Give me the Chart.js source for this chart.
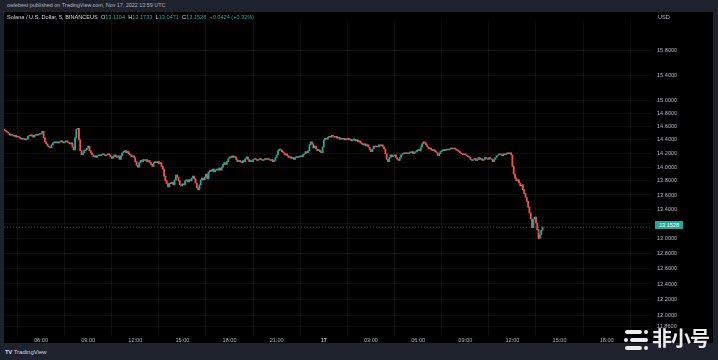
<!DOCTYPE html>
<html><head><meta charset="utf-8">
<script src="https://cdn.jsdelivr.net/npm/chart.js@4/dist/chart.umd.min.js"></script>
<style>
html,body{margin:0;padding:0;background:#1e222d;width:718px;height:360px;overflow:hidden;font-family:"Liberation Sans",Arial,sans-serif}
#panel{position:absolute;left:4px;top:12px;width:709px;height:331px;background:#000}
#c{position:absolute;left:4px;top:12px}
.t{position:absolute;white-space:nowrap;line-height:1}
#pub{left:7px;top:3px;font-size:5.4px;color:#b2b5be}
#leg{left:7px;top:15px;font-size:5.6px;color:#d1d4dc}
#leg b{font-weight:normal;color:#26a69a}
#usd{left:658px;top:15px;font-size:5.6px;color:#b2b5be}
#badge{left:655px;top:221px;width:28px;height:8px;background:#26a69a;color:#fff;font-size:5.6px;line-height:8px;text-align:center}
#tv{left:5px;top:349px;font-size:6px;color:#d1d4dc}
#tv span{font-weight:bold;letter-spacing:-0.5px;margin-right:2px}
#wm{left:652px;top:328px;font-size:20px;font-weight:bold;color:#ececec;font-family:"Noto Sans CJK SC",sans-serif;letter-spacing:-1px}
.ic{position:absolute;background:#ececec;border-radius:2px;height:4px}
</style></head>
<body>
<div id="panel"></div>
<canvas id="c" width="709" height="331"></canvas>
<div class="t" id="pub">owlebest published on TradingView.com, Nov 17, 2022 13:59 UTC</div>
<div class="t" id="leg">Solana / U.S. Dollar, 5, BINANCEUS&nbsp;&nbsp;O<b>13.1104</b>&nbsp;&nbsp;H<b>13.1733</b>&nbsp;&nbsp;L<b>13.0471</b>&nbsp;&nbsp;C<b>13.1528</b>&nbsp;&nbsp;<b>+0.0424 (+0.32%)</b></div>
<div class="t" id="usd">USD</div>
<div class="t" id="badge">13.1528</div>
<div class="t" id="tv"><span>TV</span>TradingView</div>
<div class="ic" style="left:625px;top:330px;width:17px"></div>
<div class="ic" style="left:644px;top:330px;width:4px"></div>
<div class="ic" style="left:624px;top:338px;width:4px"></div>
<div class="ic" style="left:630px;top:338px;width:18px"></div>
<div class="ic" style="left:625px;top:346px;width:17px"></div>
<div class="ic" style="left:644px;top:346px;width:4px"></div>
<div class="t" id="wm">非小号</div>
<script>
// 5-minute candles, Nov 16 03:40 -> Nov 17 13:55 (UTC)
const firstOpen = 14.56;
const closes = [
14.544,14.53,14.515,14.50,
14.47,14.485,14.47,14.457,14.47,14.44,14.455,14.44,14.427,14.41,14.425,14.41,
14.40,14.41,14.455,14.47,14.46,14.47,14.44,14.47,14.485,14.47,14.485,14.485,
14.50,14.53,14.43,14.37,14.34,14.31,14.295,14.28,14.325,14.355,14.37,14.355,
14.37,14.355,14.37,14.385,14.37,14.355,14.37,14.385,14.37,14.355,14.34,14.355,
14.295,14.25,14.43,14.56,14.575,14.40,14.24,14.18,14.21,14.24,14.25,14.28,
14.31,14.24,14.21,14.18,14.15,14.165,14.14,14.165,14.18,14.165,14.18,14.195,
14.18,14.165,14.18,14.195,14.18,14.15,14.125,14.15,14.18,14.15,14.14,14.165,
14.11,14.165,14.21,14.225,14.24,14.21,14.225,14.195,14.18,14.15,14.165,14.14,
14.08,14.025,14.00,14.065,14.095,14.08,14.11,14.095,14.11,14.08,14.095,14.065,
14.04,14.01,14.065,14.08,14.065,14.08,14.05,14.065,14.01,13.97,13.87,13.80,
13.76,13.715,13.77,13.76,13.785,13.745,13.815,13.885,13.855,13.80,13.745,13.73,
13.76,13.745,13.80,13.815,13.785,13.815,13.80,13.84,13.87,13.83,13.77,13.70,
13.675,13.745,13.815,13.84,13.815,13.855,13.90,13.83,13.93,13.955,13.94,13.97,
13.93,13.955,13.97,13.955,13.985,13.955,14.00,14.04,14.065,14.04,14.08,14.125,
14.15,14.14,14.165,14.14,14.15,14.11,14.08,14.095,14.08,14.065,14.095,14.08,
14.125,14.15,14.11,14.08,14.095,14.08,14.11,14.125,14.11,14.095,14.11,14.125,
14.11,14.095,14.11,14.125,14.11,14.125,14.11,14.095,14.11,14.08,14.095,14.14,
14.18,14.24,14.265,14.25,14.225,14.21,14.18,14.195,14.165,14.14,14.15,14.125,
14.14,14.11,14.14,14.15,14.14,14.15,14.165,14.15,14.18,14.195,14.225,14.21,
14.24,14.325,14.37,14.34,14.28,14.31,14.265,14.24,14.25,14.225,14.21,14.295,
14.40,14.425,14.41,14.44,14.455,14.44,14.47,14.455,14.44,14.455,14.425,14.44,
14.41,14.425,14.41,14.425,14.40,14.41,14.425,14.40,14.41,14.385,14.40,14.41,
14.385,14.40,14.37,14.385,14.355,14.34,14.325,14.34,14.31,14.325,14.295,14.25,
14.225,14.265,14.31,14.295,14.31,14.295,14.325,14.31,14.325,14.295,14.265,14.195,
14.11,14.08,14.14,14.18,14.15,14.165,14.18,14.14,14.11,14.095,14.14,14.18,
14.195,14.21,14.195,14.21,14.195,14.21,14.21,14.225,14.195,14.21,14.225,14.24,
14.25,14.24,14.295,14.34,14.37,14.355,14.325,14.295,14.265,14.28,14.25,14.24,
14.25,14.225,14.21,14.165,14.195,14.225,14.24,14.25,14.24,14.25,14.265,14.25,
14.265,14.28,14.265,14.28,14.265,14.25,14.24,14.225,14.21,14.195,14.18,14.195,
14.18,14.165,14.15,14.14,14.11,14.095,14.11,14.125,14.095,14.11,14.14,14.11,
14.125,14.095,14.11,14.14,14.125,14.11,14.14,14.125,14.11,14.08,14.11,14.14,
14.165,14.18,14.195,14.18,14.165,14.195,14.18,14.195,14.21,14.195,14.21,14.18,
14.01,13.90,13.84,13.80,13.815,13.77,13.73,13.745,13.675,13.62,13.565,13.51,
13.43,13.35,13.265,13.145,13.265,13.29,13.21,13.12,13.00,13.05,13.1104,13.1528
];
const lastPrice = 13.1528;
const timeTickIdx = [28,64,100,136,172,208,244,280,316,352,388,424,460];
const timeTickLabels = ["06:00","09:00","12:00","15:00","18:00","21:00","17","03:00","06:00","09:00","12:00","15:00","18:00"];
const priceTicks = [15.8,15.4,15.0,14.8,14.6,14.4,14.2,14.0,13.8,13.6,13.4,13.2,13.0,12.8,12.6,12.4,12.2,12.0,11.86];

const UP = '#26a69a', DOWN = '#ef5350';
const opens = closes.map((c,i)=> i===0 ? firstOpen : closes[i-1]);
const bodies = closes.map((c,i)=>({x:i, y:[opens[i], c]}));
const colors = closes.map((c,i)=> c >= opens[i] ? UP : DOWN);
const XMIN = -0.25, XMAX = 494.6;
const FONT = "'Liberation Sans', Arial, sans-serif";
const GRID = 'rgba(255,255,255,0.055)';

new Chart(document.getElementById('c'), {
  type: 'bar',
  data: {
    datasets: [
      {type:'line', data:[{x:XMIN,y:lastPrice},{x:XMAX,y:lastPrice}], borderColor:'rgba(38,166,154,0.55)', borderWidth:1, borderDash:[1,2], pointRadius:0, order:2},
      {data: bodies, backgroundColor: colors, barThickness: 1.2, minBarLength: 1, grouped:false, order:1}
    ]
  },
  options: {
    responsive:false, animation:false,
    layout:{padding:0},
    plugins:{legend:{display:false}, tooltip:{enabled:false}},
    scales:{
      x:{type:'linear', min:XMIN, max:XMAX, offset:false,
        afterBuildTicks: s => { s.ticks = timeTickIdx.map(v=>({value:v})); },
        afterFit: s => { s.height = 8; },
        ticks:{autoSkip:false, maxRotation:0, padding:2, color:'#b2b5be',
          font: ctx => ({family:FONT, size:5.6, weight: (ctx.tick && ctx.tick.value===244) ? 'bold' : 'normal'}),
          callback: v => timeTickLabels[timeTickIdx.indexOf(v)]},
        grid:{color:GRID, drawTicks:false}, border:{display:false}},
      y:{type:'logarithmic', position:'right', min:11.7645, max:16.303,
        afterBuildTicks: s => { s.ticks = priceTicks.map(v=>({value:v})); },
        afterFit: s => { s.width = 61; },
        ticks:{autoSkip:false, padding:5, crossAlign:'near', color:'#b2b5be', font:{family:FONT, size:5.6},
          callback: v => Number(v).toFixed(4)},
        grid:{color:GRID, drawTicks:false}, border:{display:false}}
    }
  }
});
</script>
</body></html>
